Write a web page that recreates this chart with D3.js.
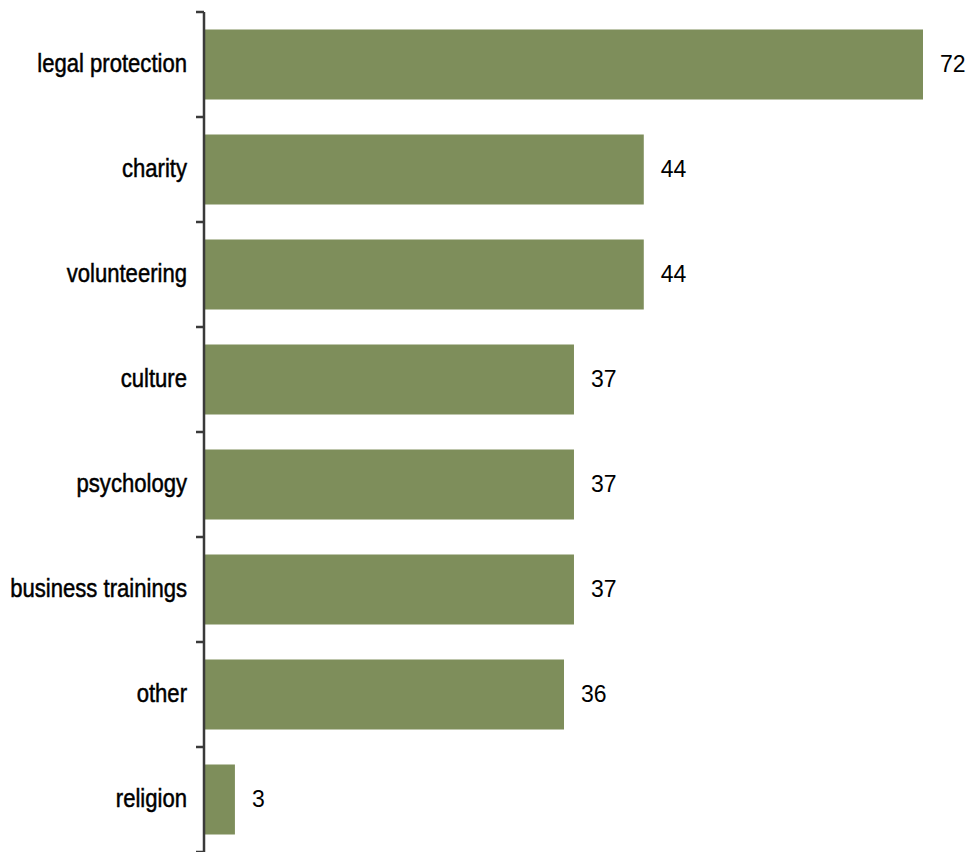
<!DOCTYPE html>
<html>
<head>
<meta charset="utf-8">
<script src="https://cdn.jsdelivr.net/npm/d3@7"></script>
<style>
  html, body { margin: 0; padding: 0; background: #fff; }
  svg { display: block; }
</style>
</head>
<body>
<svg id="chart" width="971" height="852"></svg>
<script>
// Categories and their counts, top to bottom
const categories = ["legal protection", "charity", "volunteering", "culture",
                    "psychology", "business trainings", "other", "religion"];
const values = [72, 44, 44, 37, 37, 37, 36, 3];

(function () {
  const svg = d3.select("#chart");
  const plotLeft = 205, plotTop = 12, plotBottom = 852, plotRight = 923;
  const labelRight = 187;   // right edge of category labels
  const condense = 0.85;    // horizontal squeeze for the condensed label face

  const y = d3.scaleBand()
    .domain(categories)
    .range([plotTop, plotBottom])
    .paddingInner(1 / 3)
    .paddingOuter(1 / 6);

  const x = d3.scaleLinear().domain([0, 72]).range([plotLeft, plotRight]);

  const data = categories.map((c, i) => ({ cat: c, val: values[i] }));

  // Bars
  svg.append("g").selectAll("rect")
    .data(data)
    .join("rect")
    .attr("x", x(0))
    .attr("y", d => y(d.cat))
    .attr("width", d => x(d.val) - x(0))
    .attr("height", y.bandwidth())
    .attr("fill", "#7e8e5b");

  // Value labels
  svg.append("g").selectAll("text")
    .data(data)
    .join("text")
    .attr("x", d => x(d.val) + 17)
    .attr("y", d => y(d.cat) + y.bandwidth() / 2)
    .attr("dy", "0.33em")
    .attr("font-family", "'Liberation Sans', Arial, sans-serif")
    .attr("font-size", 23)
    .attr("fill", "#000")
    .text(d => d.val);

  // Category labels in a condensed grotesque, right-aligned beside the axis
  const labels = svg.append("g")
    .attr("transform", `translate(${labelRight},0) scale(${condense},1)`);
  labels.selectAll("text")
    .data(categories)
    .join("text")
    .attr("x", 0)
    .attr("y", d => y(d) + y.bandwidth() / 2)
    .attr("dy", "0.27em")
    .attr("text-anchor", "end")
    .attr("font-family", "'Liberation Sans', Arial, sans-serif")
    .attr("font-size", 26)
    .attr("fill", "#000")
    .attr("stroke", "#000")
    .attr("stroke-width", 0.5)
    .text(d => d);

  // Axis line with ticks between bands
  const step = y.step();
  const bounds = categories.map(c => y(c) - (step - y.bandwidth()) / 2);
  bounds.push(plotBottom);
  const g = svg.append("g").attr("stroke", "#3a3a3a").attr("stroke-width", 2.5);
  g.append("line")
    .attr("x1", plotLeft - 1).attr("x2", plotLeft - 1)
    .attr("y1", plotTop).attr("y2", plotBottom);
  g.selectAll("line.tick")
    .data(bounds)
    .join("line")
    .attr("class", "tick")
    .attr("x1", plotLeft - 9).attr("x2", plotLeft - 1)
    .attr("y1", d => d).attr("y2", d => d);
})();
</script>
</body>
</html>
